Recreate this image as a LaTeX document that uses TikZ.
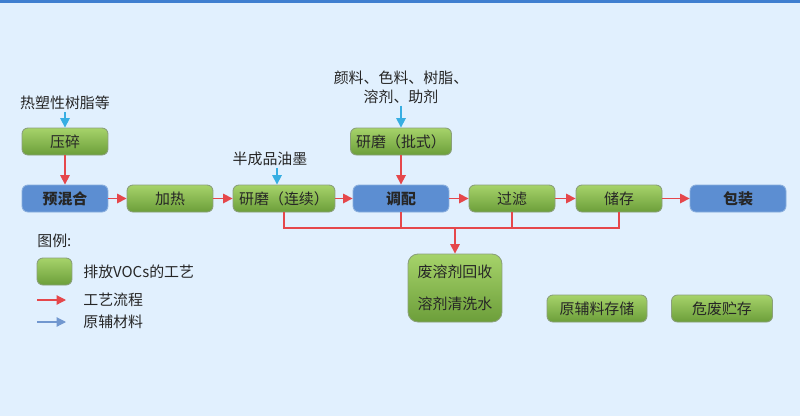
\documentclass[tikz,border=0pt]{standalone}
\usepackage{fontspec}
\setmainfont{Noto Sans CJK SC}
\usepackage{xcolor}
\usepackage{tikz}
\usetikzlibrary{arrows.meta,positioning,calc}

\definecolor{bgblue}{HTML}{E1F0FE}
\definecolor{topblue}{HTML}{3F7FD0}
\definecolor{gtop}{HTML}{A6D36A}
\definecolor{gbot}{HTML}{6C9E3A}
\definecolor{gline}{HTML}{8AA07A}
\definecolor{bfill}{HTML}{5C8ED2}
\definecolor{bline}{HTML}{89AEDD}
\definecolor{redarr}{HTML}{E5474B}
\definecolor{cyanarr}{HTML}{37AEE2}
\definecolor{legblue}{HTML}{7197CF}
\definecolor{txt}{HTML}{262626}

\begin{document}
\begin{tikzpicture}[x=0.02cm, y=-0.02cm, >={Triangle[length=1.9mm,width=1.9mm]},
  font=\fontsize{8.5}{10}\selectfont, text=txt]
\tikzstyle{vocs}=[draw=gline, line width=0.5pt, rounded corners=1.2mm,
  top color=gtop, bottom color=gbot, minimum width=1.72cm, minimum height=0.54cm, inner sep=1pt]
\tikzstyle{main}=[draw=bline, line width=0.5pt, rounded corners=1.2mm, fill=bfill,
  minimum width=1.72cm, minimum height=0.54cm, inner sep=1pt, font=\fontsize{8.5}{10}\selectfont\bfseries]
\tikzstyle{flow}=[->, draw=redarr, line width=0.9pt]
\tikzstyle{feed}=[->, draw=cyanarr, line width=0.9pt]
\tikzstyle{lbl}=[inner sep=1pt, align=center]

% background
\fill[bgblue] (0,0) rectangle (800,416);
\fill[topblue] (0,0) rectangle (800,2.5);

% main line
\node[vocs] (ys) at (65,141.5) {压碎};
\node[main] (yhh) at (65,198.5) {预混合};
\node[vocs] (jr) at (170,198.5) {加热};
\node[vocs, minimum width=2.04cm] (yml) at (284,198.5) {研磨（连续）};
\node[main, minimum width=1.92cm] (tp) at (401,198.5) {调配};
\node[vocs, minimum width=2.02cm] (ymp) at (401,141.5) {研磨（批式）};
\node[vocs] (gl) at (512,198.5) {过滤};
\node[vocs] (cc) at (619,198.5) {储存};
\node[main, minimum width=1.92cm] (bz) at (738,198.5) {包装};

% waste and storage
\node[vocs, minimum width=1.88cm, minimum height=1.36cm, rounded corners=2mm, align=center,
  font=\fontsize{8.5}{18}\selectfont] (fr) at (455,288) {废溶剂回收\\溶剂清洗水};
\node[vocs, minimum width=2cm] (ycl) at (597,308.5) {原辅料存储};
\node[vocs, minimum width=2.02cm] (wf) at (722,308.5) {危废贮存};

% raw materials
\node[lbl] (m1) at (65,103) {热塑性树脂等};
\node[lbl, font=\fontsize{8.5}{11}\selectfont] (m2) at (401,87) {颜料、色料、树脂、\\溶剂、助剂};
\node[lbl] (m3) at (270,159) {半成品油墨};

\draw[feed] (m1.south) -- (ys.north);
\draw[feed] (m2.south) -- (ymp.north);
\draw[feed] (m3.south -| 277,0) -- (yml.north -| 277,0);

\draw[flow] (ys) -- (yhh);
\draw[flow] (yhh) -- (jr);
\draw[flow] (jr) -- (yml);
\draw[flow] (yml) -- (tp);
\draw[flow] (ymp) -- (tp);
\draw[flow] (tp) -- (gl);
\draw[flow] (gl) -- (cc);
\draw[flow] (cc) -- (bz);

% collection to waste
\coordinate (jn) at (455,228);
\draw[redarr, line width=0.9pt] (yml.south) |- (cc.south |- jn) -- (cc.south);
\draw[redarr, line width=0.9pt] (tp.south) -- (tp.south |- jn);
\draw[redarr, line width=0.9pt] (gl.south) -- (gl.south |- jn);
\draw[flow] (jn) -- (fr.north);

% legend
\node[anchor=west, inner sep=0pt] (lg) at (37,241) {图例:};
\node[vocs, minimum width=0.7cm, minimum height=0.54cm] (lgbox) at (54.5,271.5) {};
\node[anchor=west, inner sep=0pt] (lg1) at (83,271.5) {排放VOCs的工艺};
\node[anchor=west, inner sep=0pt] (lg2) at (83,300) {工艺流程};
\node[anchor=west, inner sep=0pt] (lg3) at (83,322) {原辅材料};
\coordinate (r0) at (37,300);
\coordinate (b0) at (37,322);
\draw[flow, line width=0.7pt] (r0) -- (r0 -| 66,0);
\draw[->, draw=legblue, line width=0.7pt] (b0) -- (b0 -| 66,0);
\end{tikzpicture}
\end{document}
